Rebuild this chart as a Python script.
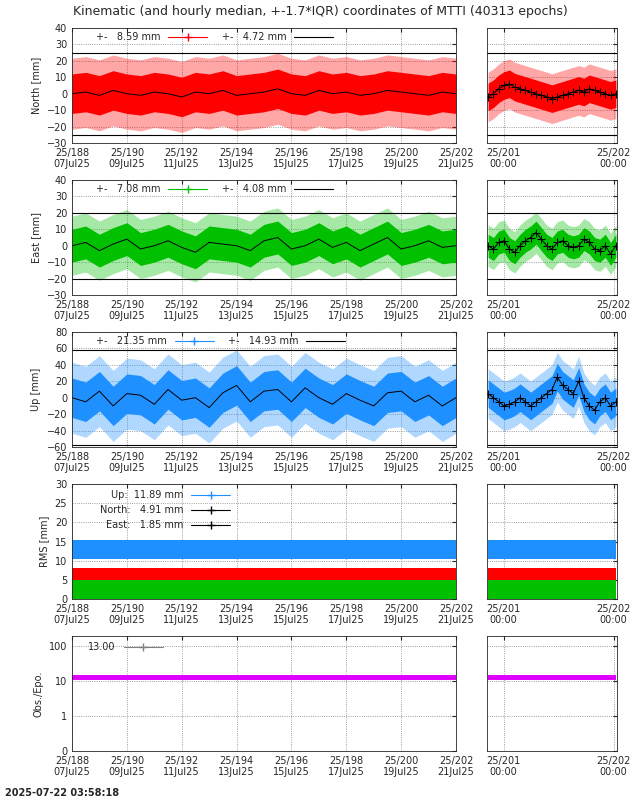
import numpy as np, pandas as pd, matplotlib
matplotlib.use("Agg")
import matplotlib.pyplot as plt, seaborn as sns
sns.set_style("white")
plt.rcParams.update({"font.family": "DejaVu Sans", "font.size": 7})

# 12-hourly medians, day-of-year 188..202 (mm)
north_med = [0,1,-1,2,0,-1,1,0,-2,1,0,2,-1,0,1,3,0,-1,2,0,1,-1,0,2,1,0,-1,1,0]
east_med  = [0,2,-3,1,4,-2,0,3,-1,-4,2,1,0,-3,3,5,-2,0,4,-1,2,-3,1,5,-2,0,3,-1,0]
up_med    = [0,-5,8,-10,5,3,-8,10,-3,0,-12,6,15,-5,8,10,-5,12,0,-8,5,-3,-10,6,8,-5,3,-10,0]
north_sd, east_sd, up_sd = 12, 10, 24
# hourly medians on last ~1.15 day
north_r = [-2,0,3,5,6,4,3,2,1,0,-1,-2,-3,-2,-1,0,1,2,1,3,2,1,0,-1,0]
east_r  = [0,-2,2,3,-2,-4,0,3,5,8,4,0,-2,2,3,0,-1,0,4,2,-2,-3,0,-5,0]
up_r    = [5,0,-5,-10,-8,-5,0,-5,-10,-5,0,5,10,25,15,10,5,20,0,-10,-15,-5,0,-10,-5]
rms_up, rms_north, rms_east = 13, 6, 2.5
obs = 13
iqr = {"North": 25, "East": 20, "Up": 58}
legs = {"North": ("8.59", "4.72"), "East": ("7.08", "4.08"), "Up": ("21.35", "14.93")}
cols = {"North": "#ff0000", "East": "#00c000", "Up": "#1e90ff"}
ylims = {"North": (-30, 40), "East": (-30, 40), "Up": (-60, 80)}
ysteps = {"North": 10, "East": 10, "Up": 20}
meds = {"North": (north_med, north_r, north_sd), "East": (east_med, east_r, east_sd), "Up": (up_med, up_r, up_sd)}

fig = plt.figure(figsize=(6.4, 8), dpi=100)
W, H = 640, 800
def axat(x0, x1, y0, y1):
    return fig.add_axes([x0/W, 1-y1/H, (x1-x0)/W, (y1-y0)/H])
rows = [(28,143),(180,295),(332,447),(484,599),(636,751)]
xl = np.arange(188, 202.01, 0.5)
xr = np.linspace(200.86, 202.02, 25)
def fmt(ax, right):
    if right:
        ax.set_xlim(200.85, 202.03); ax.set_xticks([201, 202])
        ax.set_xticklabels(["25/201\n00:00", "25/202\n00:00"])
    else:
        ax.set_xlim(188, 202); t = np.arange(188, 203, 2); ax.set_xticks(t)
        ax.set_xticklabels([f"25/{d}\n{d-181:02d}Jul25" for d in t])
    ax.grid(True, ls=":", color="gray", lw=0.6)
    ax.tick_params(direction="in", length=3, labelsize=7, top=True, right=True)
    for s in ax.spines.values(): s.set_linewidth(0.6)

for i, comp in enumerate(["North", "East", "Up"]):
    m, mr, sd = meds[comp]
    for right in (False, True):
        ax = axat(487, 617, *rows[i]) if right else axat(72, 456, *rows[i])
        x, y = (xr, mr) if right else (xl, m)
        y = np.array(y, float); s = sd*0.7 if right else sd
        ax.fill_between(x, y-1.8*s, y+1.8*s, color=cols[comp], alpha=0.35, lw=0)
        ax.fill_between(x, y-s, y+s, color=cols[comp], lw=0)
        sns.lineplot(x=x, y=y, ax=ax, color="black", lw=0.7, marker="+" if right else None, mec="black")
        ax.axhline(iqr[comp], color="black", lw=0.8); ax.axhline(-iqr[comp], color="black", lw=0.8)
        lo, hi = ylims[comp]
        ax.set_ylim(lo, hi); ax.set_yticks(np.arange(lo, hi+1, ysteps[comp])); fmt(ax, right)
        if right: ax.set_yticklabels([])
        else:
            ax.set_ylabel(f"{comp} [mm]")
            h1, = ax.plot([], [], color=cols[comp], marker="+", lw=0.8)
            h2, = ax.plot([], [], color="black", lw=0.8)
            ax.legend([h1, h2], [f"+-   {legs[comp][0]} mm", f"+-   {legs[comp][1]} mm"], ncol=2,
                      loc="upper left", frameon=False, fontsize=7, handlelength=4, markerfirst=False,
                      bbox_to_anchor=(0.04, 1.04), columnspacing=1.5)
        ax.set_xlabel("")

for right in (False, True):
    ax = axat(487, 617, *rows[3]) if right else axat(72, 456, *rows[3])
    x = xr if right else xl
    for v, c, w in [(rms_up, cols["Up"], 2.5), (rms_north, cols["North"], 2.2), (rms_east, cols["East"], 2.5)]:
        ax.fill_between(x, v-w, v+w, color=c, lw=0)
    ax.set_ylim(0, 30); ax.set_yticks(range(0, 31, 5)); fmt(ax, right)
    if right: ax.set_yticklabels([])
    else:
        ax.set_ylabel("RMS [mm]")
        hs = [ax.plot([], [], color=c, marker="+", lw=0.8)[0] for c in (cols["Up"], "black", "black")]
        ax.legend(hs, ["Up:  11.89 mm", "North:   4.91 mm", "East:   1.85 mm"], loc="upper left",
                  frameon=False, fontsize=7, handlelength=4, markerfirst=False, bbox_to_anchor=(0.05, 1.02))

for right in (False, True):
    ax = axat(487, 617, *rows[4]) if right else axat(72, 456, *rows[4])
    x = xr if right else xl
    ax.set_yscale("symlog", linthresh=1, linscale=0.9)
    ax.fill_between(x, obs*0.85, obs*1.2, color="#e000ff", lw=0)
    ax.set_ylim(0, 200); ax.set_yticks([0, 1, 10, 100]); ax.set_yticklabels(["0", "1", "10", "100"])
    ax.minorticks_off(); fmt(ax, right)
    if right: ax.set_yticklabels([])
    else:
        ax.set_ylabel("Obs./Epo.")
        h, = ax.plot([], [], color="gray", marker="+", lw=0.8)
        ax.legend([h], ["13.00"], loc="upper left", frameon=False, fontsize=7, handlelength=4,
                  markerfirst=False, bbox_to_anchor=(0.02, 1.02))

fig.text(0.5, 1-11/H, "Kinematic (and hourly median, +-1.7*IQR) coordinates of MTTI (40313 epochs)",
         ha="center", va="center", fontsize=9)
fig.text(5/W, 1-793/H, "2025-07-22 03:58:18", fontsize=7, fontweight="bold", va="center")
fig.savefig("out.png", dpi=100)
